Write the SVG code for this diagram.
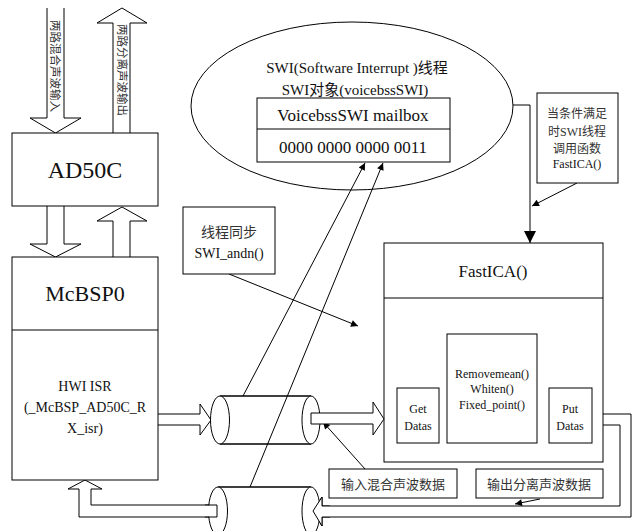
<svg xmlns="http://www.w3.org/2000/svg" width="638" height="531" viewBox="0 0 638 531">
<defs>
<marker id="ah" viewBox="0 0 10 10" refX="10" refY="5" markerWidth="9" markerHeight="7" markerUnits="userSpaceOnUse" orient="auto"><path d="M0,0 L10,5 L0,10 z" fill="#000"/></marker>
<marker id="ahb" viewBox="0 0 10 10" refX="10" refY="5" markerWidth="18" markerHeight="12" markerUnits="userSpaceOnUse" orient="auto"><path d="M0,0 L10,5 L0,10 z" fill="#000"/></marker>
</defs>
<style>
.bx{fill:#fff;stroke:#000;stroke-width:1}
.ln{fill:none;stroke:#000;stroke-width:1}
.ha{fill:#fff;stroke:#000;stroke-width:1}
text{font-family:"Liberation Serif","Noto Sans CJK SC",serif;fill:#111;text-anchor:middle}
.cn{fill:#333}
</style>
<rect width="638" height="531" fill="#fff"/>

<g id="connectors">
<path class="ha" d="M47,8 V118 H30 L55.5,133 L81,118 H64 V8"/>
<path class="ha" d="M113,133 V23 H97 L122,8 L147,23 H130 V133"/>
<path class="ha" d="M47,206 V244 H30 L55.5,257 L81,244 H64 V206"/>
<path class="ha" d="M113,257 V221 H97 L122,207 L147,221 H130 V257"/>
<path class="ha" d="M158,414 H200 V404 L211,420 L200,435 V425 H158"/>
<path class="ha" d="M603,414 H631 V517 H322 V526 L313,511 L322,497 V506 H620 V425 H603"/>
<path class="ha" d="M217,505 H91 V489 H102 L85,480 L68,489 H79 V517 H217 Z"/>
<path class="ln" d="M513,105 H530 V243" marker-end="url(#ahb)"/>
<line class="ln" x1="577" y1="183" x2="532" y2="206" marker-end="url(#ah)"/>
<line class="ln" x1="229" y1="274" x2="358" y2="326" marker-end="url(#ah)"/>
<line class="ln" x1="365" y1="469" x2="323" y2="422" marker-end="url(#ah)"/>
<line class="ln" x1="540" y1="499" x2="515" y2="504" marker-end="url(#ah)"/>
</g>

<g id="input-label">
<text class="cn" font-size="11.5" transform="translate(51,66) rotate(90)">两路混合声波输入</text>
</g>
<g id="output-label">
<text class="cn" font-size="11.5" transform="translate(118,70) rotate(90)">两路分离声波输出</text>
</g>

<g id="swi">
<ellipse class="bx" cx="352" cy="106" rx="161" ry="84"/>
<text x="357" y="73" font-size="15">SWI(Software Interrupt )线程</text>
<text x="355" y="95" font-size="15">SWI对象(voicebssSWI)</text>
<rect class="bx" x="257" y="98" width="193" height="64"/>
<line class="ln" x1="257" y1="129" x2="450" y2="129"/>
<text x="353" y="121" font-size="17">VoicebssSWI mailbox</text>
<text x="353" y="153" font-size="17">0000 0000 0000 0011</text>
</g>

<g id="ad50c">
<rect class="bx" x="12" y="133" width="146" height="73"/>
<text x="85" y="178" font-size="24">AD50C</text>
</g>

<g id="mcbsp0">
<rect class="bx" x="12" y="257" width="146" height="223"/>
<line class="ln" x1="12" y1="330" x2="158" y2="330"/>
<text x="85" y="301" font-size="22">McBSP0</text>
<text x="85" y="391" font-size="14">HWI ISR</text>
<text x="85" y="412" font-size="14">(_McBSP_AD50C_R</text>
<text x="85" y="433" font-size="14">X_isr)</text>
</g>

<g id="andn">
<rect class="bx" x="183" y="207" width="92" height="67"/>
<text class="cn" x="229" y="237" font-size="14">线程同步</text>
<text x="229" y="258" font-size="14">SWI_andn()</text>
</g>

<g id="cond">
<rect class="bx" x="537" y="93" width="81" height="90"/>
<text class="cn" x="577" y="118" font-size="12">当条件满足</text>
<text class="cn" x="577" y="136" font-size="12">时SWI线程</text>
<text class="cn" x="577" y="153" font-size="12">调用函数</text>
<text x="577" y="168" font-size="12">FastICA()</text>
</g>

<g id="fastica">
<rect class="bx" x="384" y="243" width="219" height="219"/>
<line class="ln" x1="384" y1="298" x2="603" y2="298"/>
<text x="493" y="277" font-size="17">FastICA()</text>
<rect class="bx" x="397" y="388" width="42" height="55"/>
<text x="418" y="413" font-size="12">Get</text>
<text x="418" y="430" font-size="12">Datas</text>
<rect class="bx" x="447" y="334" width="90" height="109"/>
<text x="492" y="378" font-size="12">Removemean()</text>
<text x="492" y="393" font-size="12">Whiten()</text>
<text x="492" y="409" font-size="12">Fixed_point()</text>
<rect class="bx" x="549" y="388" width="43" height="55"/>
<text x="570" y="413" font-size="12">Put</text>
<text x="570" y="430" font-size="12">Datas</text>
</g>

<g id="pipe-in">
<path class="bx" d="M220,396 H311 V444 H220 Z" stroke="none"/>
<line class="ln" x1="220" y1="396" x2="311" y2="396"/>
<line class="ln" x1="220" y1="444" x2="311" y2="444"/>
<ellipse class="bx" cx="220" cy="420" rx="9.5" ry="24"/>
<ellipse class="bx" cx="311" cy="420" rx="9" ry="24"/>
<path class="ha" d="M311,413 H373 V402 L384,419 L373,435 V424 H311 Z"/>
</g>

<g id="pipe-out">
<path class="bx" d="M218,487 H311 V535 H218 Z" stroke="none"/>
<line class="ln" x1="218" y1="487" x2="311" y2="487"/>
<ellipse class="bx" cx="218" cy="511" rx="9.5" ry="24"/>
<ellipse class="bx" cx="311" cy="511" rx="9" ry="24"/>
<rect x="205" y="505.5" width="12" height="11" fill="#fff"/>
<path class="ln" d="M205,505 H217 V517 H205"/>
<path class="ha" d="M330,506 H322 V497 L313,511 L322,526 V517 H330" />
<rect x="322" y="507" width="12" height="9" fill="#fff"/>
</g>

<g id="sync-lines">
<line class="ln" x1="243" y1="396" x2="365" y2="163" marker-end="url(#ah)"/>
<line class="ln" x1="250" y1="487" x2="383" y2="163" marker-end="url(#ah)"/>
</g>

<g id="label-in">
<rect class="bx" x="329" y="469" width="128" height="29"/>
<text class="cn" x="393" y="489" font-size="13">输入混合声波数据</text>
</g>
<g id="label-out">
<rect class="bx" x="476" y="469" width="127" height="29"/>
<text class="cn" x="539" y="489" font-size="13">输出分离声波数据</text>
</g>
</svg>
